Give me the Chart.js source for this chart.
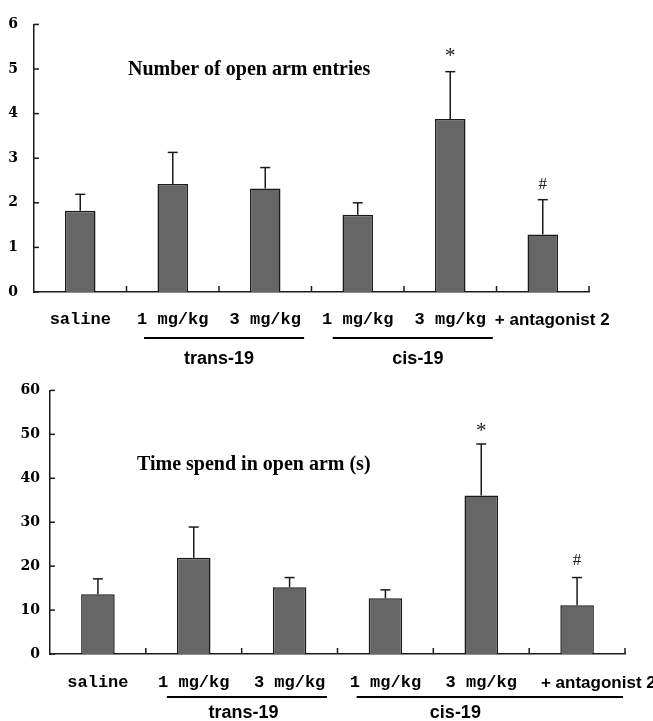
<!DOCTYPE html>
<html>
<head>
<meta charset="utf-8">
<script src="https://cdn.jsdelivr.net/npm/chart.js@4.4.0/dist/chart.umd.min.js"></script>
<style>
body{margin:0;background:#fff;}
#haut{position:absolute;left:0;top:0;width:653px;height:372px;}
#bas{position:absolute;left:0;top:372px;width:653px;height:349px;}
</style>
</head>
<body>
<div id="haut"><canvas id="chart_entries"></canvas></div>
<div id="bas"><canvas id="chart_time"></canvas></div>
<script>
//Données
const categories = ['saline', '1 mg/kg', '3 mg/kg', '1 mg/kg', '3 mg/kg', '+ antagonist 2'];
const groupNames = ['trans-19', 'cis-19'];
const groupFrom = [1, 3];
const groupTo = [2, 4];
const entries = [1.82, 2.42, 2.32, 1.73, 3.88, 1.29];
const entriesErr = [0.37, 0.71, 0.47, 0.27, 1.06, 0.78];
const timeSpent = [13.6, 21.9, 15.2, 12.7, 36.1, 11.1];
const timeErr = [3.5, 7.0, 2.2, 1.9, 11.7, 6.3];
const marks = ['', '', '', '', '*', '#'];
const entriesTicks = [0, 1, 2, 3, 4, 5, 6];
const timeTicks = [0, 10, 20, 30, 40, 50, 60];

const INK = '#1a1a1a';

function line(ctx, x1, y1, x2, y2){
    ctx.beginPath();
    ctx.moveTo(x1, y1);
    ctx.lineTo(x2, y2);
    ctx.stroke();
}

//Plugin pour les barres d'erreur, les petites graduations, le titre et les groupes
const deco = {
    id: 'deco',
    afterDatasetsDraw(chart, args, opts){
        const ctx = chart.ctx;
        const area = chart.chartArea;
        const x = chart.scales.x;
        const y = chart.scales.y;
        const vals = chart.data.datasets[0].data;
        const w = x.getPixelForValue(1) - x.getPixelForValue(0);
        ctx.save();
        ctx.strokeStyle = INK;
        ctx.lineWidth = 1.5;

        //barres d'erreur
        opts.err.forEach((e, i) => {
            const cx = x.getPixelForValue(i);
            const y0 = y.getPixelForValue(vals[i]);
            const y1 = y.getPixelForValue(vals[i] + e);
            line(ctx, cx, y0, cx, y1);
            line(ctx, cx - 5, y1, cx + 5, y1);
            if(marks[i]){
                ctx.fillStyle = INK;
                ctx.font = (marks[i] === '*' ? '21px' : '17px') + ' "Liberation Serif"';
                ctx.textAlign = 'center';
                ctx.textBaseline = 'middle';
                ctx.fillText(marks[i], cx, y1 - opts.markGap[i]);
            }
        });

        //graduations vers l'intérieur
        y.ticks.forEach(t => {
            const py = y.getPixelForValue(t.value);
            line(ctx, area.left, py, area.left + 5, py);
        });
        for(let i = 0; i < categories.length; i++){
            const px = x.getPixelForValue(i) + w / 2;
            line(ctx, px, area.bottom, px, area.bottom - 6);
        }

        //titre
        ctx.fillStyle = '#000';
        ctx.font = 'bold 20px "Liberation Serif"';
        ctx.textAlign = 'left';
        ctx.textBaseline = 'middle';
        ctx.fillText(opts.title, opts.titleX, opts.titleY);

        //groupes trans / cis
        ctx.lineWidth = 2;
        ctx.strokeStyle = '#000';
        ctx.font = 'bold 18px "Liberation Sans"';
        ctx.textAlign = 'center';
        groupNames.forEach((g, k) => {
            const xa = x.getPixelForValue(groupFrom[k]) + opts.groupPad[k][0] * w;
            const xb = x.getPixelForValue(groupTo[k]) + opts.groupPad[k][1] * w;
            const ly = area.bottom + opts.lineDrop;
            line(ctx, xa, ly, xb, ly);
            ctx.fillText(g, x.getPixelForValue(groupFrom[k]) + opts.textAt[k] * w, area.bottom + opts.textDrop);
        });
        ctx.restore();
    }
};

function makeChart(id, values, ticks, cfg){
    return new Chart(document.getElementById(id), {
        type: 'bar',
        data: {
            labels: categories,
            datasets: [{
                data: values,
                backgroundColor: '#666666',
                borderColor: INK,
                borderWidth: 1.5,
                categoryPercentage: 1,
                barPercentage: cfg.barPct
            }]
        },
        options: {
            responsive: true,
            maintainAspectRatio: false,
            animation: false,
            layout: {padding: cfg.padding},
            plugins: {
                legend: {display: false},
                tooltip: {enabled: false},
                deco: cfg.deco
            },
            scales: {
                x: {
                    grid: {display: false, drawTicks: false},
                    border: {display: true, color: INK, width: 1.5},
                    afterFit: s => {
                        s.height = cfg.xHeight;
                        s.paddingLeft = 0;
                        s.paddingRight = 0;
                    },
                    ticks: {
                        padding: cfg.xPad,
                        color: '#000',
                        maxRotation: 0,
                        autoSkip: false,
                        callback: (v, i) => i === 5 ? cfg.lastPad + categories[i] : categories[i],
                        font: c => c.index === 5
                            ? {family: '"Liberation Sans"', weight: 'bold', size: 17}
                            : {family: '"Liberation Mono"', weight: 'bold', size: 17}
                    }
                },
                y: {
                    min: ticks[0],
                    max: ticks[ticks.length - 1],
                    grid: {display: false, drawTicks: false},
                    border: {display: true, color: INK, width: 1.5},
                    afterFit: s => { s.width = cfg.yWidth; },
                    afterBuildTicks: s => { s.ticks = ticks.map(v => ({value: v})); },
                    ticks: {
                        padding: cfg.yPad,
                        color: '#000',
                        font: {family: '"DejaVu Serif"', weight: 'bold', size: 14}
                    }
                }
            }
        },
        plugins: [deco]
    });
}

document.addEventListener('DOMContentLoaded', () => {
    makeChart('chart_entries', entries, entriesTicks, {
        barPct: 0.33,
        padding: {top: 18, right: 64, left: 0, bottom: 0},
        xHeight: 80,
        xPad: 18,
        yWidth: 34,
        yPad: 16,
        lastPad: '    ',
        deco: {
            err: entriesErr,
            markGap: [0, 0, 0, 0, 15, 15],
            title: 'Number of open arm entries',
            titleX: 128, titleY: 70,
            groupPad: [[-0.31, 0.42], [-0.27, 0.46]],
            textAt: [0.5, 0.65],
            lineDrop: 46, textDrop: 67
        }
    });
    makeChart('chart_time', timeSpent, timeTicks, {
        barPct: 0.35,
        padding: {top: 12, right: 28, left: 0, bottom: 0},
        xHeight: 67,
        xPad: 19,
        yWidth: 50,
        yPad: 10,
        lastPad: '         ',
        deco: {
            err: timeErr,
            markGap: [0, 0, 0, 0, 13, 17],
            title: 'Time spend in open arm (s)',
            titleX: 137, titleY: 93,
            groupPad: [[-0.28, 0.39], [-0.30, 1.48]],
            textAt: [0.52, 0.73],
            lineDrop: 43, textDrop: 59
        }
    });
});
</script>
</body>
</html>
